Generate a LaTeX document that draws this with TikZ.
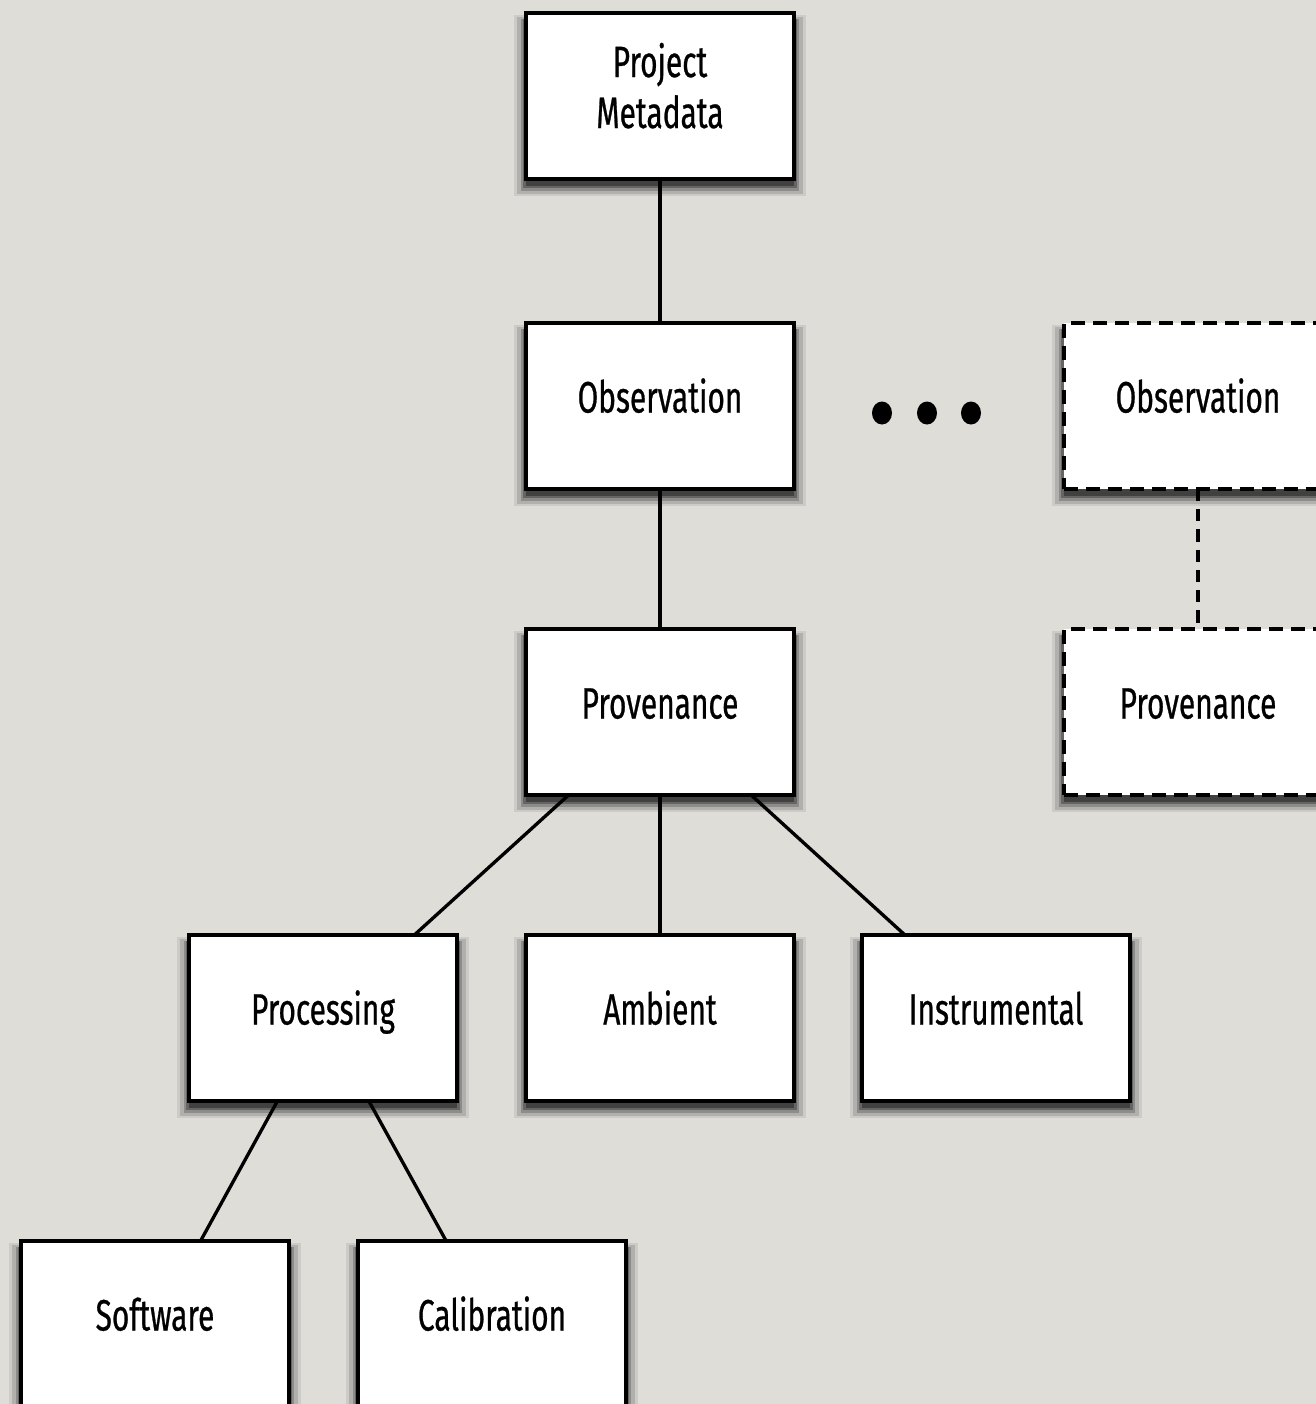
\documentclass[tikz,border=0pt]{standalone}
\usepackage{fontspec}
\setmainfont[FakeStretch=0.68,FakeBold=0.6]{Fira Sans}
\usetikzlibrary{shadows}
\definecolor{paper}{RGB}{222,221,216}
\tikzset{
  soft shadow/.style={
    drop shadow={shadow xshift=0pt,shadow yshift=-5pt,shadow scale=1.09,opacity=0.08,fill=black},
    drop shadow={shadow xshift=0pt,shadow yshift=-5pt,shadow scale=1.065,opacity=0.13,fill=black},
    drop shadow={shadow xshift=0pt,shadow yshift=-5pt,shadow scale=1.04,opacity=0.2,fill=black},
    drop shadow={shadow xshift=0pt,shadow yshift=-4pt,shadow scale=1.02,opacity=0.28,fill=black},
    drop shadow={shadow xshift=0pt,shadow yshift=-4pt,shadow scale=1.00,opacity=0.35,fill=black}},
  box/.style={draw=black,fill=white,line width=2.1pt,minimum width=5.36cm,minimum height=3.32cm,
    inner sep=0pt,outer sep=0pt,soft shadow,font=\fontsize{25}{30}\selectfont,
    text height=0.6cm,text depth=0.34cm},
  maybe box/.style={box,dash pattern=on 8pt off 4.5pt},
  link/.style={line width=1.9pt},
  maybe link/.style={link,dash pattern=on 7pt off 4.5pt}
}
\begin{document}
\begin{tikzpicture}[x=0.02cm,y=-0.02cm]
        %% Background
        \fill[paper] (0,0) rectangle (1316,1404);
        \useasboundingbox (0,0) rectangle (1316,1404);
        %% Boxes
        \node[box,align=center,text height=1.68cm,text depth=0.4cm] (meta) at (660,96) {Project\\[-1pt]Metadata};
        \node[box] (obs) at (660,406) {Observation};
        \node[box] (prov) at (660,712) {Provenance};
        \node[box] (proc) at (323,1018) {Processing};
        \node[box] (amb) at (660,1018) {Ambient};
        \node[box] (instr) at (996,1018) {Instrumental};
        \node[box] (soft) at (155,1324) {Software};
        \node[box] (cal) at (492,1324) {Calibration};
        %% Other observations
        \node[maybe box] (obsB) at (1198,406) {Observation};
        \node[maybe box] (provB) at (1198,712) {Provenance};
        \fill (882,413) ellipse (10 and 11.5);
        \fill (927,413) ellipse (10 and 11.5);
        \fill (971,413) ellipse (10 and 11.5);
        %% Links
        \draw[link] (meta) -- (obs);
        \draw[link] (obs) -- (prov);
        \draw[link] (prov) -- (proc);
        \draw[link] (prov) -- (amb);
        \draw[link] (prov) -- (instr);
        \draw[link] (proc) -- (soft);
        \draw[link] (proc) -- (cal);
        \draw[maybe link] (obsB) -- (provB);
    \end{tikzpicture}
\end{document}
